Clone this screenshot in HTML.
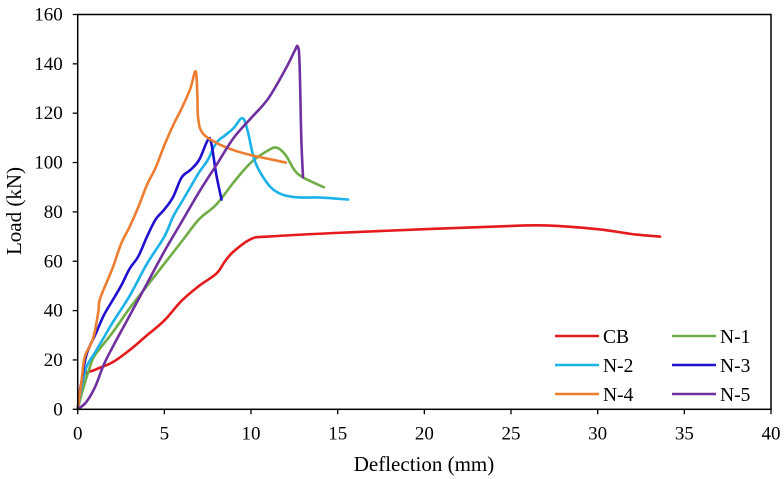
<!DOCTYPE html>
<html><head><meta charset="utf-8">
<style>
html,body{margin:0;padding:0;background:#fff;}
svg{display:block;font-family:"Liberation Serif",serif;}
</style></head>
<body>
<svg id="chart" width="784" height="479" viewBox="0 0 784 479" xmlns="http://www.w3.org/2000/svg">
<g id="grid"></g>
<g id="series"></g>
<g id="axes"></g>
<g id="legend"></g>
<text x="424" y="471" font-size="21" text-anchor="middle">Deflection (mm)</text>
<text transform="translate(21,211) rotate(-90)" font-size="21" text-anchor="middle">Load (kN)</text>
</svg>
<script>
const xTicks=[0,5,10,15,20,25,30,35,40];
const yTicks=[0,20,40,60,80,100,120,140,160];
const seriesNames=["CB","N-1","N-2","N-3","N-4","N-5"];
const seriesColors=["#e41a1c","#70ad47","#1ab2e8","#1f10d0","#ed7d31","#7030a0"];
const cbX=[0,0.3,1,2,3,4,5,6,7,8,8.5,9,10,11,15,20,25,27,30,32,33.6];
const cbY=[0,13,16,19,24,30,36,44,50,55,60,64,69,70,71.5,73,74.3,74.5,73,71,70];
const n1X=[0,0.3,0.7,1,2,3,4,5,6,7,8,9,10,11,11.5,12,12.5,13,14.2];
const n1Y=[0,8,17,22,31,41,50,59,68,77,83,92,100,105,106,103,97,94,90];
const n2X=[0,0.2,0.5,1,1.5,2,3,4,5,5.5,6,6.5,7,7.5,8,8.5,9,9.5,9.8,10.2,10.8,11.5,12.5,14,15.6];
const n2Y=[0,8,17,23,29,35,46,59,70,78,84,90,96,101,108,111,114,118,113,101,93,88,86,85.8,85];
const n3X=[0,0.2,0.5,1,1.5,2,2.5,3,3.5,4,4.5,5,5.5,6,6.5,7,7.5,7.7,8,8.3];
const n3Y=[0,10,22,30,38,44,50,57,62,70,77,81,86,94,97,101,109,108,95,85];
const n4X=[0,0.2,0.4,0.8,1,1.2,1.3,2,2.5,3,3.5,4,4.5,5,5.5,6,6.5,6.8,6.9,6.95,7.2,8,9,10,11,12];
const n4Y=[0,10,21,27,32,40,45,57,67,74,82,91,98,107,115,122,130,137,128,118,112,108,105,103,101.5,100];
const n5X=[0,0.5,1,1.5,2,3,4,5,6,7,8,9,10,11,12,12.5,12.7,12.8,12.9,13];
const n5Y=[0,3,9,18,25,38,51,64,76,88,99,110,118,126,138,145,147,140,110,94];
const allX=[cbX,n1X,n2X,n3X,n4X,n5X];
const allY=[cbY,n1Y,n2Y,n3Y,n4Y,n5Y];

const X0=77.7,X1=771,Y0=409.3,Y1=14.5;
const sx=v=>X0+(v-0)/(40-0)*(X1-X0);
const sy=v=>Y0-(v-0)/(160-0)*(Y0-Y1);
const NS="http://www.w3.org/2000/svg";
function mk(tag,attrs,parent){const e=document.createElementNS(NS,tag);for(const k in attrs)e.setAttribute(k,attrs[k]);parent.appendChild(e);return e;}

const axes=document.getElementById('axes');
const frame=mk('rect',{x:X0,y:Y1,width:X1-X0,height:Y0-Y1,fill:'none',stroke:'#000','stroke-width':1.5},axes);


xTicks.forEach(t=>{
  const l=mk('line',{x1:sx(t),x2:sx(t),y1:Y0,y2:Y0+5,stroke:'#000','stroke-width':1.3},axes);
  
  
  const tx=mk('text',{x:sx(t),y:Y0+30,'font-size':19,'text-anchor':'middle'},axes);
  tx.textContent=t;
  
  
});
yTicks.forEach(t=>{
  const l=mk('line',{x1:X0-5,x2:X0,y1:sy(t),y2:sy(t),stroke:'#000','stroke-width':1.3},axes);
  
  
  const tx=mk('text',{x:X0-15,y:sy(t)+6,'font-size':19,'text-anchor':'end'},axes);
  tx.textContent=t;
  
  
});

const sg=document.getElementById('series');
allX.forEach((xs,i)=>{
  const pts=xs.map((x,j)=>[sx(x),sy(allY[i][j])]);
  let d='M'+pts[0][0]+','+pts[0][1];
  for(let j=0;j<pts.length-1;j++){
    const p0=pts[Math.max(0,j-1)],p1=pts[j],p2=pts[j+1],p3=pts[Math.min(pts.length-1,j+2)];
    const t=0.18;
    d+=' C'+(p1[0]+(p2[0]-p0[0])*t)+','+(p1[1]+(p2[1]-p0[1])*t)+' '+(p2[0]-(p3[0]-p1[0])*t)+','+(p2[1]-(p3[1]-p1[1])*t)+' '+p2[0]+','+p2[1];
  }
  const p=mk('path',{d:d,fill:'none',stroke:seriesColors[i],'stroke-width':2.6,'stroke-linejoin':'round','stroke-linecap':'round'},sg);
  
  
});

const lg=document.getElementById('legend');
seriesNames.forEach((n,i)=>{
  const col=i%2,row=Math.floor(i/2);
  const x=555+col*117,y=336+row*29;
  const g=mk('g',{},lg);
  
  
  mk('line',{x1:x,x2:x+44,y1:y,y2:y,stroke:seriesColors[i],'stroke-width':2.6},g);
  const t=mk('text',{x:x+48,y:y+7,'font-size':19.5},g);
  t.textContent=n;
});
</script>
</body></html>
